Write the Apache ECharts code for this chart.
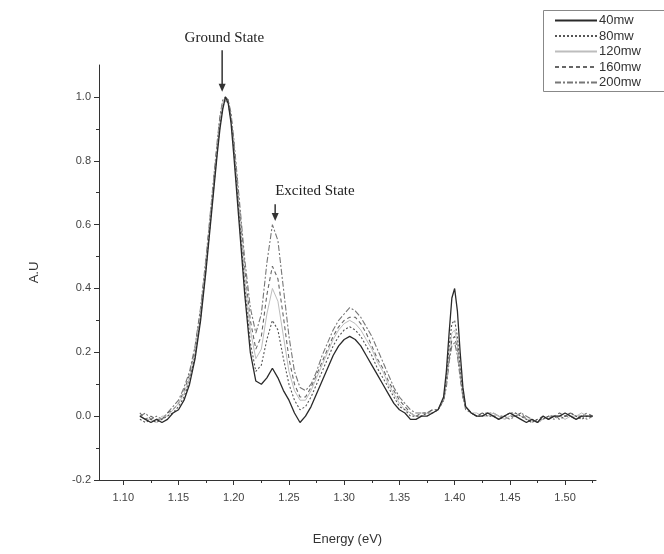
<!DOCTYPE html>
<html><head><meta charset="utf-8">
<script src="https://cdn.jsdelivr.net/npm/echarts@6/dist/echarts.min.js"></script>
<style>html,body{margin:0;padding:0;background:#fff}#c{width:664px;height:554px}</style>
</head><body><div id="c"></div>
<script>
const energy = [1.115,1.120,1.125,1.130,1.135,1.140,1.145,1.150,1.155,1.160,1.165,1.170,1.175,1.180,1.185,1.1875,1.190,1.1925,1.195,1.1975,1.200,1.205,1.210,1.215,1.220,1.225,1.230,1.235,1.240,1.245,1.250,1.255,1.260,1.265,1.270,1.275,1.280,1.285,1.290,1.295,1.300,1.305,1.310,1.315,1.320,1.325,1.330,1.335,1.340,1.345,1.350,1.355,1.360,1.365,1.370,1.375,1.380,1.385,1.390,1.3925,1.395,1.3975,1.400,1.4025,1.405,1.4075,1.410,1.415,1.420,1.425,1.430,1.435,1.440,1.445,1.450,1.455,1.460,1.465,1.470,1.475,1.480,1.485,1.490,1.495,1.500,1.505,1.510,1.515,1.520,1.525];
const mw40 = [0.00,-0.01,-0.02,-0.01,-0.02,-0.01,0.01,0.02,0.05,0.10,0.18,0.30,0.46,0.64,0.82,0.90,0.96,1.00,0.98,0.92,0.82,0.60,0.38,0.20,0.11,0.10,0.12,0.15,0.12,0.08,0.05,0.01,-0.02,0.00,0.03,0.07,0.11,0.15,0.19,0.22,0.24,0.25,0.24,0.22,0.19,0.16,0.13,0.10,0.07,0.04,0.02,0.01,-0.01,-0.01,0.00,0.00,0.01,0.02,0.06,0.14,0.26,0.37,0.40,0.33,0.20,0.09,0.03,0.01,0.00,0.00,0.01,0.00,-0.01,0.00,0.01,0.00,-0.01,-0.02,-0.01,-0.02,0.00,-0.01,0.00,0.00,0.01,0.00,-0.01,0.00,0.00,0.00];
const mw80 = [-0.01,-0.02,-0.01,-0.02,-0.01,0.00,0.01,0.03,0.06,0.11,0.19,0.31,0.47,0.65,0.83,0.91,0.97,0.99,0.98,0.93,0.84,0.62,0.40,0.23,0.14,0.16,0.24,0.30,0.27,0.18,0.10,0.05,0.02,0.03,0.06,0.10,0.14,0.18,0.22,0.25,0.27,0.28,0.27,0.25,0.22,0.19,0.15,0.12,0.09,0.06,0.03,0.02,0.00,0.00,0.00,0.01,0.01,0.02,0.05,0.12,0.22,0.29,0.30,0.25,0.15,0.07,0.03,0.01,0.00,0.01,0.00,0.00,-0.01,0.00,0.01,0.01,0.00,-0.01,-0.02,-0.01,-0.01,0.00,0.00,-0.01,0.00,0.01,0.00,-0.01,0.00,0.00];
const mw120 = [0.00,-0.01,-0.01,-0.02,0.00,0.00,0.02,0.04,0.07,0.12,0.20,0.32,0.48,0.66,0.84,0.92,0.98,1.00,0.98,0.93,0.85,0.64,0.43,0.27,0.18,0.21,0.32,0.40,0.36,0.25,0.14,0.08,0.05,0.05,0.08,0.12,0.16,0.20,0.24,0.27,0.29,0.30,0.29,0.27,0.24,0.21,0.17,0.14,0.10,0.07,0.04,0.02,0.01,0.00,0.00,0.01,0.01,0.02,0.05,0.11,0.20,0.26,0.27,0.23,0.14,0.07,0.03,0.01,0.01,0.00,0.00,0.01,0.00,-0.01,0.00,0.01,0.00,-0.01,-0.01,-0.02,-0.01,0.00,0.00,0.00,-0.01,0.00,0.00,0.01,0.00,0.00];
const mw160 = [0.01,-0.01,0.00,-0.01,-0.01,0.01,0.02,0.04,0.08,0.13,0.21,0.33,0.49,0.67,0.85,0.93,0.98,1.00,0.99,0.94,0.86,0.66,0.46,0.30,0.21,0.25,0.38,0.47,0.43,0.31,0.18,0.10,0.06,0.06,0.09,0.13,0.17,0.21,0.25,0.28,0.30,0.31,0.31,0.29,0.26,0.22,0.18,0.15,0.11,0.08,0.05,0.03,0.01,0.00,0.01,0.01,0.02,0.02,0.05,0.10,0.18,0.24,0.25,0.21,0.13,0.06,0.03,0.01,0.00,0.01,0.01,0.00,0.00,-0.01,0.00,0.00,0.01,-0.01,-0.02,-0.01,0.00,-0.01,0.00,0.01,0.00,0.00,-0.01,0.00,0.01,0.00];
const mw200 = [0.00,0.01,-0.01,0.00,-0.01,0.01,0.03,0.05,0.09,0.14,0.22,0.34,0.50,0.68,0.86,0.94,0.99,1.00,0.99,0.95,0.87,0.68,0.49,0.34,0.26,0.32,0.48,0.60,0.55,0.40,0.25,0.14,0.09,0.08,0.10,0.14,0.19,0.23,0.27,0.30,0.32,0.34,0.33,0.31,0.28,0.25,0.21,0.17,0.13,0.09,0.06,0.04,0.02,0.01,0.01,0.01,0.02,0.02,0.05,0.09,0.17,0.22,0.23,0.19,0.12,0.06,0.02,0.01,0.00,0.00,0.01,0.01,0.00,0.00,-0.01,0.00,0.01,0.00,-0.01,-0.02,-0.01,0.00,-0.01,0.00,0.00,0.01,0.00,0.00,-0.01,0.00];
const seriesNames = ['40mw','80mw','120mw','160mw','200mw'];
const xTicks = [1.10,1.15,1.20,1.25,1.30,1.35,1.40,1.45,1.50];
const xMinor = [1.125,1.175,1.225,1.275,1.325,1.375,1.425,1.475,1.525];
const yTicks = [-0.2,0.0,0.2,0.4,0.6,0.8,1.0];
const yMinor = [-0.1,0.1,0.3,0.5,0.7,0.9];
const annotations = [
  {text:'Ground State', tx:1.1915, ty:1.184, ax:1.1895, ay1:1.146, ay2:1.016},
  {text:'Excited State', tx:1.2735, ty:0.704, ax:1.2375, ay1:0.664, ay2:0.611}
];

const values = [mw40, mw80, mw120, mw160, mw200];
const styles = [
  {color:'#2a2a2a', width:1.3, type:'solid'},
  {color:'#555', width:1.1, type:[2,2]},
  {color:'#bdbdbd', width:1, type:'solid'},
  {color:'#666', width:1.1, type:[4,3]},
  {color:'#777', width:1.1, type:[6,2,2,2]}
];
const chart = echarts.init(document.getElementById('c'));
const XMIN = 1.078, XMAX = 1.528, YMIN = -0.2, YMAX = 1.1;
const axisCol = '#333';
const labelFont = {color:'#444', fontSize:11, fontFamily:'Liberation Sans, Arial, sans-serif'};
chart.setOption({
  animation:false,
  backgroundColor:'#fff',
  grid:{left:99, right:68, top:65, bottom:74},
  legend:{
    orient:'vertical', left:549, top:9, itemWidth:42, itemHeight:10, itemGap:2.5,
    itemStyle:{opacity:0},
    textStyle:{color:'#333', fontSize:13, fontFamily:'Liberation Sans, Arial, sans-serif', padding:[0,0,0,-3]},
    data:seriesNames
  },
  xAxis:[{
    type:'value', min:XMIN, max:XMAX, position:'bottom',
    name:'Energy (eV)', nameLocation:'middle', nameGap:53,
    nameTextStyle:{color:'#333', fontSize:13, fontFamily:'Liberation Sans, Arial, sans-serif'},
    axisLine:{show:true, onZero:false, lineStyle:{color:axisCol, width:1}},
    axisTick:{show:true, length:5, customValues:xTicks, lineStyle:{color:axisCol}},
    axisLabel:{customValues:xTicks, formatter:v=>v.toFixed(2), margin:12, ...labelFont},
    splitLine:{show:false}
  },{
    type:'value', min:XMIN, max:XMAX, position:'bottom', gridIndex:0,
    axisLine:{show:false, onZero:false},
    axisTick:{show:true, length:3, customValues:xMinor, lineStyle:{color:axisCol}},
    axisLabel:{show:false}, splitLine:{show:false}
  }],
  yAxis:[{
    type:'value', min:YMIN, max:YMAX, position:'left',
    name:'A.U', nameLocation:'middle', nameGap:58, nameRotate:90,
    nameTextStyle:{color:'#333', fontSize:13, fontFamily:'Liberation Sans, Arial, sans-serif'},
    axisLine:{show:true, onZero:false, lineStyle:{color:axisCol, width:1}},
    axisTick:{show:true, length:5, customValues:yTicks, lineStyle:{color:axisCol}},
    axisLabel:{customValues:yTicks, formatter:v=>v.toFixed(1), margin:8, ...labelFont},
    splitLine:{show:false}
  },{
    type:'value', min:YMIN, max:YMAX, position:'left', gridIndex:0,
    axisLine:{show:false, onZero:false},
    axisTick:{show:true, length:3, customValues:yMinor, lineStyle:{color:axisCol}},
    axisLabel:{show:false}, splitLine:{show:false}
  }],
  series: seriesNames.map((n,i)=>({
    name:n, type:'line', xAxisIndex:0, yAxisIndex:0,
    data: energy.map((e,j)=>[e, values[i][j]]),
    showSymbol:false, symbol:'none', smooth:false,
    lineStyle:{color:styles[i].color, width:styles[i].width, type:styles[i].type},
    itemStyle:{color:styles[i].color},
    z: 10 - i
  }))
});

const g = [];
g.push({type:'rect', shape:{x:543.5, y:10.5, width:160, height:81}, style:{fill:'none', stroke:'#888', lineWidth:1}, z:1});
annotations.forEach(a=>{
  const t = chart.convertToPixel({gridIndex:0}, [a.tx, a.ty]);
  const p1 = chart.convertToPixel({gridIndex:0}, [a.ax, a.ay1]);
  const p2 = chart.convertToPixel({gridIndex:0}, [a.ax, a.ay2]);
  g.push({type:'text', x:t[0], y:t[1], style:{text:a.text, fill:'#222', font:'15px "Liberation Serif", "Times New Roman", serif', align:'center', verticalAlign:'middle'}, z:20});
  g.push({type:'line', shape:{x1:p1[0], y1:p1[1], x2:p2[0], y2:p2[1]-6}, style:{stroke:'#333', lineWidth:1.5}, z:20});
  g.push({type:'polygon', shape:{points:[[p2[0]-3.5,p2[1]-8],[p2[0]+3.5,p2[1]-8],[p2[0],p2[1]]]}, style:{fill:'#333'}, z:20});
});
chart.setOption({graphic:g});
</script></body></html>
